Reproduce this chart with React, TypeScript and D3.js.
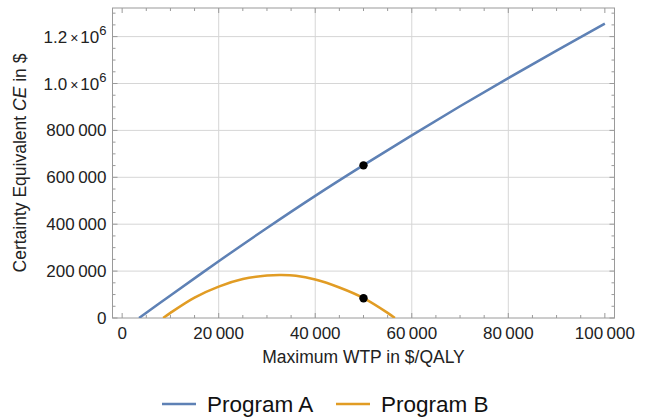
import React from "react";
import * as d3 from "d3";

const programAX = [3500, 10000, 20000, 30000, 40000, 50000, 60000, 70000, 80000, 90000, 100000];
const programAY = [0, 96000, 242000, 384000, 521000, 652000, 779000, 903000, 1023000, 1140000, 1255000];

const programBX = [8500, 10000, 15000, 20000, 25000, 30000, 33000, 36000, 40000, 45000, 50000, 55000, 56500];
const programBY = [0, 22000, 87000, 134000, 166000, 181000, 183000, 180000, 164000, 130000, 85000, 22000, 0];

const markerX = [50000, 50000];
const markerY = [651000, 84000];

const xMajorTicks = [0, 20000, 40000, 60000, 80000, 100000];
const xTickLabels = ["0", "20\u2009000", "40\u2009000", "60\u2009000", "80\u2009000", "100\u2009000"];
const xGridValues = [20000, 40000, 60000, 80000];
const yMajorTicks = [0, 200000, 400000, 600000, 800000, 1000000, 1200000];
const yTickLabels = ["0", "200\u2009000", "400\u2009000", "600\u2009000", "800\u2009000", "1.0", "1.2"];
const yGridValues = [200000, 400000, 600000, 800000, 1000000, 1200000];

const seriesNames = ["Program A", "Program B"];
const seriesColors = ["#5E81B5", "#E19C24"];

const W = 646;
const H = 418;
const L = 112.5, R = 614.5, T = 8, B = 318;
const FONT = "'Liberation Sans', Arial, sans-serif";

export default function App() {
  const x = d3.scaleLinear().domain([-2000, 102000]).range([L, R]);
  const y = d3.scaleLinear().domain([0, 1322000]).range([B, T]);

  const line = d3
    .line<[number, number]>()
    .x((d) => x(d[0]))
    .y((d) => y(d[1]))
    .curve(d3.curveCatmullRom.alpha(0.5));

  const seriesA: [number, number][] = programAX.map((v, i) => [v, programAY[i]]);
  const seriesB: [number, number][] = programBX.map((v, i) => [v, programBY[i]]);

  const xMinor = d3.range(0, 100001, 5000);
  const yMinor = d3.range(0, 1300001, 50000);

  const frameColor = "#9a9a9a";
  const textColor = "#222";

  return (
    <svg
      width={W}
      height={H}
      style={{ position: "absolute", left: 0, top: 0, background: "#fff" }}
      fontFamily={FONT}
    >
      <defs>
        <clipPath id="plotclip">
          <rect x={L} y={T} width={R - L} height={B - T} />
        </clipPath>
      </defs>
      {xGridValues.map((v) => (
        <line key={"gx" + v} x1={x(v)} x2={x(v)} y1={T} y2={B} stroke="#d6d6d6" strokeWidth={1} />
      ))}
      {yGridValues.map((v) => (
        <line key={"gy" + v} x1={L} x2={R} y1={y(v)} y2={y(v)} stroke="#d6d6d6" strokeWidth={1} />
      ))}
      {xMinor.map((v) => {
        const major = v % 20000 === 0;
        const len = major ? 5 : 3;
        return (
          <g key={"xt" + v}>
            <line x1={x(v)} x2={x(v)} y1={B} y2={B - len} stroke={frameColor} />
            <line x1={x(v)} x2={x(v)} y1={T} y2={T + len} stroke={frameColor} />
          </g>
        );
      })}
      {yMinor.map((v) => {
        const major = v % 200000 === 0;
        const len = major ? 5 : 3;
        return (
          <g key={"yt" + v}>
            <line x1={L} x2={L + len} y1={y(v)} y2={y(v)} stroke={frameColor} />
            <line x1={R} x2={R - len} y1={y(v)} y2={y(v)} stroke={frameColor} />
          </g>
        );
      })}
      <rect x={L} y={T} width={R - L} height={B - T} fill="none" stroke={frameColor} strokeWidth={1} />
      <g clipPath="url(#plotclip)">
        <path d={line(seriesA) || ""} fill="none" stroke={seriesColors[0]} strokeWidth={2.5} />
        <path d={line(seriesB) || ""} fill="none" stroke={seriesColors[1]} strokeWidth={2.5} />
        {markerX.map((v, i) => (
          <circle key={"m" + i} cx={x(v)} cy={y(markerY[i])} r={4.2} fill="#000" />
        ))}
      </g>
      {xMajorTicks.map((v, i) => (
        <text key={"xl" + v} x={x(v)} y={B + 21} textAnchor="middle" fontSize={17} fill={textColor}>
          {xTickLabels[i]}
        </text>
      ))}
      {yMajorTicks.map((v, i) => {
        const sci = v >= 1000000;
        return (
          <text
            key={"yl" + v}
            x={L - 6}
            y={y(v) + 6}
            textAnchor="end"
            fontSize={17}
            fill={textColor}
          >
            {sci ? (
              <>
                {yTickLabels[i]}
                <tspan dx={3} fontSize={14}>×</tspan>
                <tspan dx={2}>10</tspan>
                <tspan dy={-8} fontSize={13}>6</tspan>
              </>
            ) : (
              yTickLabels[i]
            )}
          </text>
        );
      })}
      <text x={(L + R) / 2} y={363} textAnchor="middle" fontSize={17.5} fill={textColor}>
        Maximum WTP in $/QALY
      </text>
      <text
        transform={`translate(26, ${(T + B) / 2}) rotate(-90)`}
        textAnchor="middle"
        fontSize={17.5}
        fill={textColor}
      >
        Certainty Equivalent <tspan fontStyle="italic">CE</tspan> in $
      </text>
      <line x1={162} x2={196} y1={404} y2={404} stroke={seriesColors[0]} strokeWidth={2.5} />
      <text x={207} y={412} fontSize={22.5} fill="#111">{seriesNames[0]}</text>
      <line x1={336} x2={370} y1={404} y2={404} stroke={seriesColors[1]} strokeWidth={2.5} />
      <text x={381} y={412} fontSize={22.5} fill="#111">{seriesNames[1]}</text>
    </svg>
  );
}
